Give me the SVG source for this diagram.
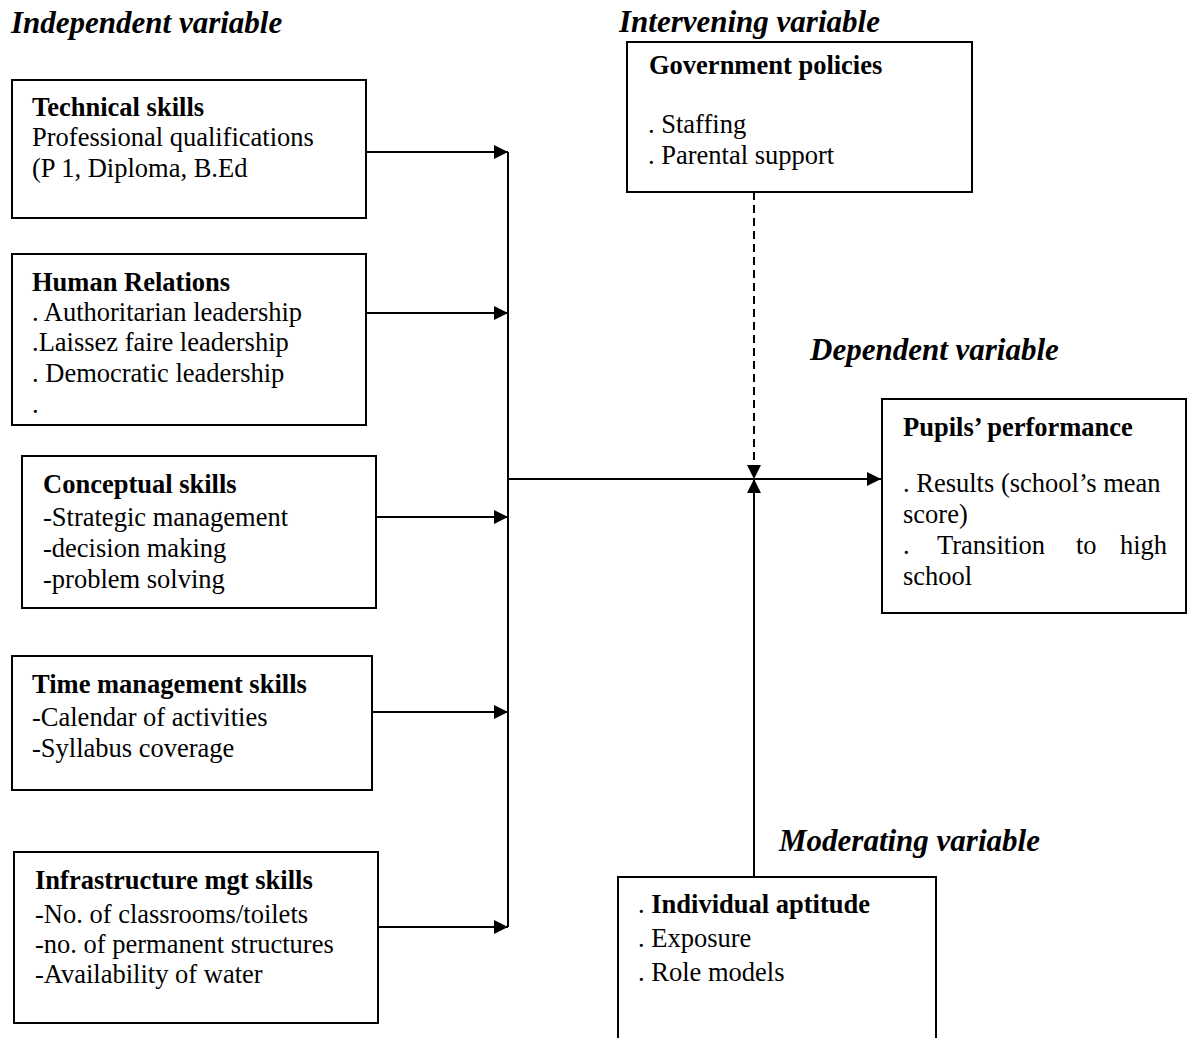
<svg xmlns="http://www.w3.org/2000/svg" width="1189" height="1038" viewBox="0 0 1189 1038">
<style>
.box{fill:#fff;stroke:#000;stroke-width:2}
.t{font-family:"Liberation Serif","Times New Roman",serif;font-size:26.5px;fill:#000}
.b{font-weight:bold}
.h{font-family:"Liberation Serif","Times New Roman",serif;font-size:31px;font-weight:bold;font-style:italic;fill:#000}
.ln{stroke:#000;stroke-width:2;fill:none}
</style>
<defs>
<marker id="ah" viewBox="0 0 14 14" refX="14" refY="7" markerWidth="14" markerHeight="14" markerUnits="userSpaceOnUse" orient="auto">
<path d="M0,0 L14,7 L0,14 Z" fill="#000"/>
</marker>
</defs>
<rect width="1189" height="1038" fill="#fff"/>
<g id="titles">
<text class="h" x="11" y="33">Independent variable</text>
<text class="h" x="619" y="32">Intervening variable</text>
<text class="h" x="810" y="360">Dependent variable</text>
<text class="h" x="779" y="851">Moderating variable</text>
</g>
<g id="technical">
<rect class="box" x="12" y="80" width="354" height="138"/>
<text class="t b" x="32" y="116">Technical skills</text>
<text class="t" x="32" y="146">Professional qualifications</text>
<text class="t" x="32" y="177">(P 1, Diploma, B.Ed</text>
</g>
<g id="human">
<rect class="box" x="12" y="254" width="354" height="171"/>
<text class="t b" x="32" y="291">Human Relations</text>
<text class="t" x="32" y="321">. Authoritarian leadership</text>
<text class="t" x="32" y="351">.Laissez faire leadership</text>
<text class="t" x="32" y="382">. Democratic leadership</text>
<text class="t" x="32" y="413">.</text>
</g>
<g id="conceptual">
<rect class="box" x="22" y="456" width="354" height="152"/>
<text class="t b" x="43" y="493">Conceptual skills</text>
<text class="t" x="43" y="526">-Strategic management</text>
<text class="t" x="43" y="557">-decision making</text>
<text class="t" x="43" y="588">-problem solving</text>
</g>
<g id="time">
<rect class="box" x="12" y="656" width="360" height="134"/>
<text class="t b" x="32" y="693">Time management skills</text>
<text class="t" x="32" y="726">-Calendar of activities</text>
<text class="t" x="32" y="757">-Syllabus coverage</text>
</g>
<g id="infrastructure">
<rect class="box" x="14" y="852" width="364" height="171"/>
<text class="t b" x="35" y="889">Infrastructure mgt skills</text>
<text class="t" x="35" y="923">-No. of classrooms/toilets</text>
<text class="t" x="35" y="953">-no. of permanent structures</text>
<text class="t" x="35" y="983">-Availability of water</text>
</g>
<g id="government">
<rect class="box" x="627" y="42" width="345" height="150"/>
<text class="t b" x="649" y="74">Government policies</text>
<text class="t" x="648" y="133">. Staffing</text>
<text class="t" x="648" y="164">. Parental support</text>
</g>
<g id="pupils">
<rect class="box" x="882" y="399" width="304" height="214"/>
<text class="t b" x="903" y="436">Pupils’ performance</text>
<text class="t" x="903" y="492">. Results (school’s mean</text>
<text class="t" x="903" y="523">score)</text>
<text class="t" x="903" y="554">.</text>
<text class="t" x="937" y="554">Transition</text>
<text class="t" x="1076" y="554">to</text>
<text class="t" x="1120" y="554">high</text>
<text class="t" x="903" y="585">school</text>
</g>
<g id="moderating">
<rect class="box" x="618" y="877" width="318" height="180"/>
<text class="t" x="638" y="913">. <tspan class="b">Individual aptitude</tspan></text>
<text class="t" x="638" y="947">. Exposure</text>
<text class="t" x="638" y="981">. Role models</text>
</g>
<g id="connectors">
<line class="ln" x1="366" y1="152" x2="508" y2="152" marker-end="url(#ah)"/>
<line class="ln" x1="366" y1="313" x2="508" y2="313" marker-end="url(#ah)"/>
<line class="ln" x1="376" y1="517" x2="508" y2="517" marker-end="url(#ah)"/>
<line class="ln" x1="372" y1="712" x2="508" y2="712" marker-end="url(#ah)"/>
<line class="ln" x1="378" y1="927" x2="508" y2="927" marker-end="url(#ah)"/>
<line class="ln" x1="508" y1="152" x2="508" y2="927"/>
<line class="ln" x1="508" y1="479" x2="881" y2="479" marker-end="url(#ah)"/>
<line class="ln" x1="754" y1="192" x2="754" y2="479" stroke-dasharray="8,5" marker-end="url(#ah)"/>
<line class="ln" x1="754" y1="877" x2="754" y2="479" marker-end="url(#ah)"/>
</g>
</svg>
